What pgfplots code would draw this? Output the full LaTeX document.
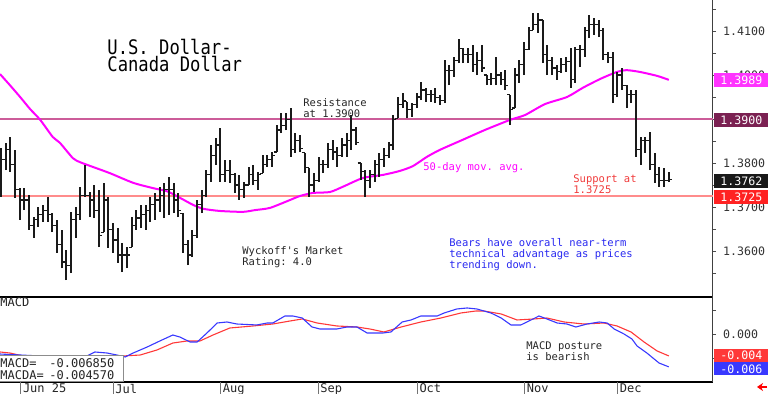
\documentclass[border=0pt]{standalone}
\usepackage{fontspec}
\setmonofont{DejaVu Sans Mono}
\usepackage{graphicx}
\usepackage{pgfplots}
\usepackage{pgfplotstable}
\pgfplotsset{compat=1.18}
\usetikzlibrary{arrows.meta}
\definecolor{barc}{HTML}{1A1A1A}
\definecolor{magc}{HTML}{FF00FF}
\definecolor{magbox}{HTML}{FF33FF}
\definecolor{resc}{HTML}{CC5C99}
\definecolor{resbox}{HTML}{7B2152}
\definecolor{supc}{HTML}{FF8C8C}
\definecolor{supbox}{HTML}{FF2222}
\definecolor{macdb}{HTML}{3838FF}
\definecolor{macdr}{HTML}{FF3838}
\definecolor{txtred}{HTML}{F03A3A}
\definecolor{txtblue}{HTML}{2828F0}
\pgfdeclareplotmark{ctick}{\pgfpathmoveto{\pgfqpoint{0pt}{0pt}}\pgfpathlineto{\pgfqpoint{1.5pt}{0pt}}\pgfusepathqstroke}
\pgfdeclareplotmark{otick}{\pgfpathmoveto{\pgfqpoint{-1.5pt}{0pt}}\pgfpathlineto{\pgfqpoint{0pt}{0pt}}\pgfusepathqstroke}
\newcommand\sm{\ttfamily\fontsize{5.25}{6}\selectfont}
\newcommand\md{\ttfamily\fontsize{6}{7}\selectfont}
\newcommand\mdr{\ttfamily\fontsize{5.8}{7}\selectfont}

\pgfplotstableread{
i h l o c
0 1.3834 1.3723 1.3780 1.3807
1 1.3846 1.3784 1.3807 1.3830
2 1.3859 1.3780 1.3830 1.3796
3 1.3830 1.3721 1.3796 1.3739
4 1.3743 1.3671 1.3739 1.3716
5 1.3743 1.3693 1.3716 1.3716
6 1.3727 1.3648 1.3716 1.3659
7 1.3677 1.3630 1.3659 1.3671
8 1.3700 1.3655 1.3671 1.3682
9 1.3705 1.3666 1.3682 1.3693
10 1.3723 1.3666 1.3693 1.3682
11 1.3686 1.3643 1.3682 1.3659
12 1.3671 1.3596 1.3659 1.3614
13 1.3648 1.3561 1.3614 1.3575
14 1.3602 1.3534 1.3575 1.3568
15 1.3689 1.3550 1.3568 1.3671
16 1.3700 1.3630 1.3671 1.3682
17 1.3746 1.3671 1.3682 1.3727
18 1.3796 1.3723 1.3727 1.3727
19 1.3734 1.3677 1.3727 1.3716
20 1.3750 1.3675 1.3716 1.3693
21 1.3739 1.3609 1.3693 1.3636
22 1.3755 1.3643 1.3643 1.3716
23 1.3723 1.3607 1.3716 1.3648
24 1.3664 1.3596 1.3648 1.3625
25 1.3652 1.3573 1.3625 1.3591
26 1.3618 1.3552 1.3591 1.3591
27 1.3609 1.3561 1.3591 1.3591
28 1.3677 1.3609 1.3609 1.3659
29 1.3693 1.3648 1.3659 1.3675
30 1.3705 1.3652 1.3675 1.3682
31 1.3705 1.3648 1.3682 1.3693
32 1.3723 1.3666 1.3693 1.3705
33 1.3732 1.3671 1.3705 1.3716
34 1.3746 1.3689 1.3716 1.3727
35 1.3755 1.3675 1.3727 1.3739
36 1.3768 1.3682 1.3739 1.3739
37 1.3755 1.3686 1.3739 1.3716
38 1.3732 1.3677 1.3716 1.3693
39 1.3686 1.3596 1.3686 1.3614
40 1.3625 1.3568 1.3614 1.3591
41 1.3648 1.3586 1.3591 1.3636
42 1.3716 1.3630 1.3636 1.3705
43 1.3739 1.3686 1.3705 1.3727
44 1.3784 1.3723 1.3727 1.3773
45 1.3841 1.3757 1.3773 1.3818
46 1.3857 1.3796 1.3818 1.3841
47 1.3880 1.3757 1.3841 1.3773
48 1.3807 1.3757 1.3773 1.3784
49 1.3807 1.3755 1.3784 1.3773
50 1.3777 1.3732 1.3773 1.3750
51 1.3773 1.3716 1.3750 1.3739
52 1.3757 1.3721 1.3739 1.3750
53 1.3791 1.3750 1.3750 1.3773
54 1.3796 1.3750 1.3773 1.3761
55 1.3780 1.3739 1.3761 1.3773
56 1.3818 1.3777 1.3777 1.3796
57 1.3818 1.3791 1.3796 1.3807
58 1.3825 1.3791 1.3807 1.3818
59 1.3886 1.3825 1.3825 1.3875
60 1.3914 1.3868 1.3875 1.3886
61 1.3914 1.3875 1.3886 1.3898
62 1.3925 1.3814 1.3898 1.3830
63 1.3868 1.3823 1.3830 1.3852
64 1.3864 1.3825 1.3852 1.3834
65 1.3823 1.3777 1.3823 1.3789
66 1.3789 1.3723 1.3789 1.3750
67 1.3777 1.3734 1.3750 1.3761
68 1.3814 1.3757 1.3761 1.3796
69 1.3807 1.3777 1.3796 1.3796
70 1.3846 1.3789 1.3796 1.3830
71 1.3852 1.3807 1.3830 1.3825
72 1.3836 1.3791 1.3825 1.3818
73 1.3857 1.3814 1.3818 1.3841
74 1.3868 1.3814 1.3841 1.3852
75 1.3909 1.3830 1.3852 1.3875
76 1.3882 1.3841 1.3875 1.3846
77 1.3800 1.3761 1.3800 1.3780
78 1.3784 1.3723 1.3780 1.3761
79 1.3784 1.3743 1.3761 1.3773
80 1.3807 1.3757 1.3773 1.3796
81 1.3823 1.3768 1.3796 1.3807
82 1.3834 1.3791 1.3807 1.3818
83 1.3848 1.3811 1.3818 1.3841
84 1.3909 1.3830 1.3841 1.3898
85 1.3950 1.3902 1.3902 1.3932
86 1.3959 1.3925 1.3932 1.3943
87 1.3939 1.3902 1.3939 1.3921
88 1.3936 1.3905 1.3921 1.3932
89 1.3959 1.3925 1.3932 1.3950
90 1.3984 1.3943 1.3950 1.3966
91 1.3971 1.3939 1.3966 1.3955
92 1.3966 1.3939 1.3955 1.3955
93 1.3971 1.3936 1.3955 1.3948
94 1.3955 1.3932 1.3948 1.3943
95 1.4034 1.3936 1.3943 1.4011
96 1.4023 1.3977 1.4011 1.4011
97 1.4041 1.3996 1.4011 1.4034
98 1.4082 1.4027 1.4034 1.4061
99 1.4061 1.4027 1.4061 1.4046
100 1.4061 1.4027 1.4046 1.4046
101 1.4068 1.4007 1.4046 1.4023
102 1.4052 1.4000 1.4023 1.4034
103 1.4068 1.4007 1.4034 1.4016
104 1.4000 1.3977 1.4000 1.3989
105 1.4005 1.3977 1.3989 1.3993
106 1.4041 1.3977 1.3993 1.4000
107 1.4007 1.3977 1.4000 1.3989
108 1.4011 1.3966 1.3989 1.3977
109 1.3955 1.3886 1.3955 1.3921
110 1.4016 1.3925 1.3925 1.4000
111 1.4034 1.3982 1.4000 1.4023
112 1.4075 1.4000 1.4023 1.4057
113 1.4109 1.4057 1.4057 1.4102
114 1.4141 1.4102 1.4102 1.4114
115 1.4141 1.4096 1.4114 1.4125
116 1.4125 1.4027 1.4125 1.4046
117 1.4068 1.4000 1.4046 1.4034
118 1.4041 1.4000 1.4034 1.4016
119 1.4023 1.3989 1.4016 1.4007
120 1.4039 1.4005 1.4007 1.4023
121 1.4041 1.4007 1.4023 1.4030
122 1.4061 1.3971 1.4030 1.3989
123 1.4064 1.3982 1.3989 1.4057
124 1.4068 1.4018 1.4057 1.4057
125 1.4109 1.4041 1.4057 1.4102
126 1.4136 1.4084 1.4102 1.4114
127 1.4130 1.4091 1.4114 1.4114
128 1.4125 1.4086 1.4114 1.4102
129 1.4107 1.4034 1.4102 1.4046
130 1.4052 1.4027 1.4046 1.4039
131 1.4052 1.3936 1.4039 1.3955
132 1.4007 1.3950 1.3955 1.4000
133 1.4016 1.3966 1.4000 1.3977
134 1.3977 1.3925 1.3977 1.3955
135 1.3966 1.3936 1.3955 1.3955
136 1.3966 1.3814 1.3955 1.3830
137 1.3859 1.3796 1.3830 1.3852
138 1.3859 1.3823 1.3852 1.3852
139 1.3871 1.3784 1.3852 1.3796
140 1.3823 1.3755 1.3796 1.3773
141 1.3791 1.3746 1.3773 1.3761
142 1.3789 1.3746 1.3761 1.3761
143 1.3780 1.3757 1.3761 1.3762
}\bars

\pgfplotstableread{
i ma
-0.2 1.4002
1.9 1.3977
4.1 1.3950
6.2 1.3923
8.4 1.3898
11.1 1.3859
12.6 1.3846
15.4 1.3811
16.9 1.3802
19.7 1.3791
23.3 1.3777
28.3 1.3755
32.5 1.3743
35.5 1.3736
38.3 1.3721
41.1 1.3705
43.3 1.3696
46.9 1.3691
51.8 1.3689
54.4 1.3693
57.6 1.3698
61.9 1.3716
64.0 1.3725
66.8 1.3732
70.4 1.3734
73.2 1.3746
77.5 1.3766
81.8 1.3773
85.4 1.3782
88.2 1.3793
91.2 1.3814
94.0 1.3830
98.7 1.3852
103.6 1.3875
109.0 1.3898
112.2 1.3909
116.5 1.3934
121.2 1.3950
124.6 1.3971
128.3 1.3991
131.9 1.4007
134.0 1.4011
136.8 1.4007
140.5 1.3998
143.0 1.3989
}\mavg

\pgfplotstableread{
i v
-0.2 -0.00417
8.4 -0.00458
18.0 -0.00479
20.1 -0.00375
22.7 -0.00396
24.8 -0.00438
26.6 -0.00479
28.3 -0.00396
31.3 -0.00271
34.0 -0.00146
36.8 -0.00021
38.3 -0.00063
40.5 -0.00167
42.0 -0.00167
44.1 0.00021
46.3 0.00229
48.4 0.00250
50.5 0.00208
54.8 0.00188
57.0 0.00229
58.2 0.00229
60.8 0.00375
62.5 0.00375
64.5 0.00333
66.6 0.00146
68.3 0.00104
71.9 0.00104
74.1 0.00146
76.2 0.00146
78.4 0.00021
81.8 0.00021
83.5 0.00042
85.9 0.00250
87.8 0.00292
89.9 0.00375
93.4 0.00375
94.9 0.00438
97.6 0.00521
99.8 0.00542
101.9 0.00521
104.9 0.00438
107.1 0.00333
109.2 0.00188
111.3 0.00188
113.5 0.00292
115.2 0.00375
116.9 0.00313
119.1 0.00229
121.2 0.00208
123.1 0.00146
125.5 0.00208
128.1 0.00250
129.8 0.00229
131.3 0.00104
133.4 0.00000
135.1 -0.00104
136.2 -0.00250
138.3 -0.00396
140.9 -0.00604
143.0 -0.00685
}\macd

\pgfplotstableread{
i v
-0.2 -0.00375
1.9 -0.00396
4.7 -0.00458
12.6 -0.00500
26.1 -0.00458
29.8 -0.00438
33.4 -0.00333
36.8 -0.00188
39.8 -0.00146
42.6 -0.00146
45.4 -0.00021
49.0 0.00125
54.0 0.00167
58.2 0.00208
61.9 0.00271
64.5 0.00313
67.7 0.00229
71.9 0.00167
76.2 0.00146
79.0 0.00104
82.0 0.00042
85.7 0.00146
89.9 0.00250
94.2 0.00333
98.5 0.00438
101.7 0.00479
103.4 0.00479
107.1 0.00417
110.5 0.00292
114.1 0.00313
116.9 0.00333
120.6 0.00250
124.8 0.00208
129.1 0.00229
131.9 0.00167
134.9 0.00042
137.7 -0.00167
140.5 -0.00354
143.0 -0.00457
}\macda

\begin{document}
\begin{tikzpicture}[x=0.5pt, y=-0.5pt]
\useasboundingbox (0,0) rectangle (768,394);

% ---------- main price panel ----------
\begin{axis}[
  at={(0pt,-148.5pt)}, anchor=south west, scale only axis,
  width=356.5pt, height=148.5pt,
  xmin=-0.214, xmax=152.46, ymin=1.34955, ymax=1.41705,
  axis x line=bottom, axis y line=right,
  x axis line style={-, black, line width=0.8pt},
  y axis line style={-, black!75, line width=0.5pt},
  xtick=\empty,
  ytick={1.36,1.37,1.38,1.39,1.40,1.41},
  minor ytick={1.355,1.365,1.375,1.385,1.395,1.405,1.415},
  tick align=outside, major tick length=1.6pt, minor tick length=1.6pt,
  every tick/.style={black!70, line width=0.4pt},
  yticklabel style={font=\mdr, text=black!80, anchor=west, inner sep=0pt, xshift=3.3pt},
  y tick label style={/pgf/number format/.cd, fixed, fixed zerofill, precision=4, assume math mode=true},
  clip=true,
]
\addplot[resc, line width=0.65pt, forget plot] coordinates {(-0.214,1.39) (152.46,1.39)};
\addplot[supc, line width=0.8pt, forget plot] coordinates {(-0.214,1.3725) (152.46,1.3725)};
\addplot[magc, line width=1pt, smooth, tension=0.4] table[x=i, y=ma] {\mavg};
\addplot[draw=none, mark=none, forget plot,
  error bars/.cd, y dir=plus, y explicit, error mark=none,
  error bar style={draw=barc, line width=1pt, solid}]
  table[x=i, y=l, y error plus expr=\thisrow{h}-\thisrow{l}] {\bars};
\addplot[only marks, mark=ctick, mark options={draw=barc, line width=0.55pt}, forget plot] table[x=i, y=c] {\bars};
\addplot[only marks, mark=otick, mark options={draw=barc, line width=0.55pt}, forget plot] table[x=i, y=o] {\bars};
\end{axis}

% ---------- MACD panel ----------
\begin{axis}[
  at={(0pt,-191pt)}, anchor=south west, scale only axis,
  width=356.5pt, height=42.5pt,
  xmin=-0.214, xmax=152.46, ymin=-0.01, ymax=0.0077083,
  axis x line=bottom, axis y line=right,
  x axis line style={-, black, line width=0.6pt},
  y axis line style={-, black!75, line width=0.5pt},
  xtick={4.2,24.0,47.0,67.9,89.1,112.1,132.0},
  xticklabels={Jun 25,Jul,Aug,Sep,Oct,Nov,Dec},
  xticklabel style={font=\md, text=black!85, anchor=north west, inner sep=0pt, xshift=1pt, yshift=0.8pt},
  x tick style={draw=none},
  ytick={-0.005,0,0.005}, yticklabels={,0.000,},
  scaled y ticks=false,
  tick align=outside, major tick length=1.6pt,
  y tick style={black!70, line width=0.4pt},
  yticklabel style={font=\mdr, text=black!80, anchor=west, inner sep=0pt, xshift=3.3pt},
  clip=true,
]
\addplot[macdr, line width=0.55pt] table[x=i, y=v] {\macda};
\addplot[macdb, line width=0.55pt] table[x=i, y=v] {\macd};
\end{axis}

% month separators
\foreach \mx in {20.7,113.3,220.7,318.3,417.3,524.7,617.3}
  \draw[black!55, line width=0.4pt] (\mx,382) -- (\mx,394);

% value boxes right of price axis
\node[fill=magbox, text=white, font=\mdr, anchor=west, minimum width=27.3pt, minimum height=7pt, inner sep=0pt] at (713.6,80) {1.3989};
\node[fill=resbox, text=white, font=\mdr, anchor=west, minimum width=27.3pt, minimum height=7pt, inner sep=0pt] at (713.6,120) {1.3900};
\node[fill=black!90, text=white, font=\mdr, anchor=west, minimum width=27.3pt, minimum height=7pt, inner sep=0pt] at (713.6,181) {1.3762};
\node[fill=supbox, text=white, font=\mdr, anchor=west, minimum width=27.3pt, minimum height=7pt, inner sep=0pt] at (713.6,197.5) {1.3725};
\node[fill=macdr, text=white, font=\mdr, anchor=west, minimum width=27.3pt, minimum height=6.5pt, inner sep=0pt] at (713.6,355.5) {-0.004};
\node[fill=macdb, text=white, font=\mdr, anchor=west, minimum width=27.3pt, minimum height=6.5pt, inner sep=0pt] at (713.6,369) {-0.006};

% title
\node[anchor=base west, inner sep=0pt, font=\ttfamily\fontsize{10}{12}\selectfont] at (107,55) {\scalebox{0.86}[1]{U.S. Dollar-}};
\node[anchor=base west, inner sep=0pt, font=\ttfamily\fontsize{10}{12}\selectfont] at (107,72) {\scalebox{0.86}[1]{Canada Dollar}};

% annotations
\node[anchor=base west, inner sep=0pt, font=\sm, text=black!85] at (303,107) {Resistance};
\node[anchor=base west, inner sep=0pt, font=\sm, text=black!85] at (303,118) {at 1.3900};
\node[anchor=base west, inner sep=0pt, font=\sm, text=magc] at (423,171) {50-day mov. avg.};
\node[anchor=base west, inner sep=0pt, font=\sm, text=txtred] at (573,183) {Support at};
\node[anchor=base west, inner sep=0pt, font=\sm, text=txtred] at (573,194) {1.3725};
\node[anchor=base west, inner sep=0pt, font=\sm, text=black!85] at (242,255) {Wyckoff's Market};
\node[anchor=base west, inner sep=0pt, font=\sm, text=black!85] at (242,266) {Rating: 4.0};
\node[anchor=base west, inner sep=0pt, font=\sm, text=txtblue] at (449,247) {Bears have overall near-term};
\node[anchor=base west, inner sep=0pt, font=\sm, text=txtblue] at (449,258) {technical advantage as prices};
\node[anchor=base west, inner sep=0pt, font=\sm, text=txtblue] at (449,269) {trending down.};
\node[anchor=base west, inner sep=0pt, font=\sm, text=black!85] at (526,350) {MACD posture};
\node[anchor=base west, inner sep=0pt, font=\sm, text=black!85] at (526,361) {is bearish};
\node[anchor=base west, inner sep=0pt, font=\md, text=black!85] at (0,307) {MACD};

% MACD readout box
\draw[black!45, fill=white, line width=0.5pt] (-2,356) rectangle (123,382);
\node[anchor=base west, inner sep=0pt, font=\md, text=black!85] at (0,367.5) {MACD=};
\node[anchor=base west, inner sep=0pt, font=\md, text=black!85] at (49,367.5) {-0.006850};
\node[anchor=base west, inner sep=0pt, font=\md, text=black!85] at (0,379.5) {MACDA=};
\node[anchor=base west, inner sep=0pt, font=\md, text=black!85] at (49,379.5) {-0.004570};

% small red arrow
\draw[-{Stealth[length=3pt,width=4pt]}, red, line width=1pt] (767,387) -- (757,387);
\end{tikzpicture}
\end{document}
